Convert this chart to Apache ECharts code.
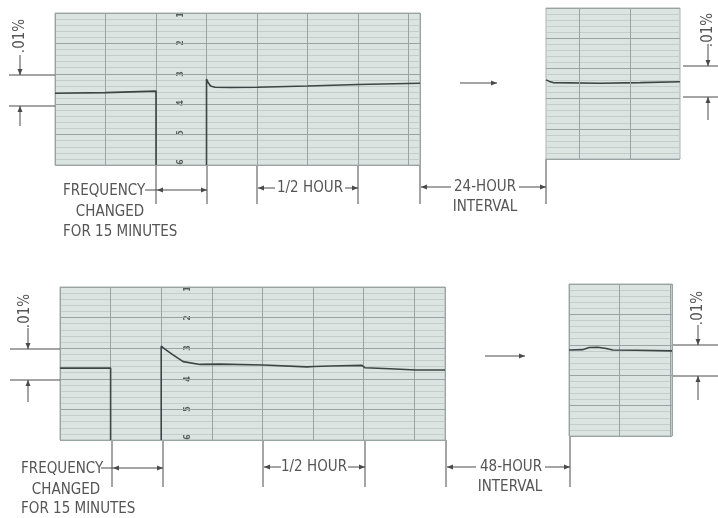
<!DOCTYPE html>
<html><head><meta charset="utf-8">
<script src="https://cdn.jsdelivr.net/npm/echarts@6/dist/echarts.min.js"></script>
<style>html,body{margin:0;padding:0;background:#fff}#c{width:718px;height:518px}</style>
</head><body><div id="c"></div>
<script>
// x: minutes on the recorder strip, y: chart divisions (1 division = 0.01 %)
const top24Before = [[0,2.36],[15,2.38],[30,2.43],[30,0]];
const top24After  = [[45,0],[45,2.83],[45.4,2.72],[46.2,2.6],[47.5,2.56],[52,2.55],[60,2.56],[75,2.6],[90,2.65],[108.4,2.69]];
const top24Later  = [[0,2.62],[1,2.57],[2.1,2.53],[16,2.51],[28,2.53],[39.8,2.56]];
const bot48Before = [[0,2.35],[15,2.35],[15,0]];
const bot48After  = [[30,0],[30,3.07],[31,2.98],[33.5,2.78],[36.5,2.56],[41.5,2.47],[47.4,2.48],[60.2,2.45],[73.2,2.39],[75.3,2.4],[80,2.42],[89.5,2.44],[90.4,2.36],[97.8,2.33],[105.5,2.29],[114.1,2.29]];
const bot48Later  = [[0,2.83],[4,2.84],[6,2.91],[8.5,2.92],[11,2.88],[13,2.83],[20,2.82],[30.5,2.8]];
const laterRulings = [9.8, 25];
const scaleDigits = ['1','2','3','4','5','6'];
const labels = {freq:'FREQUENCY', changed:'CHANGED', forMin:'FOR 15 MINUTES', half:'1/2 HOUR', h24:'24-HOUR', h48:'48-HOUR', interval:'INTERVAL', pct:'.01%'};

const PAPER='#dce4e1', MINOR='#c3cdca', MAJOR='#98a4a1', BORDER='#a9b3b1', PEN='#3b4543', INK='#4a4a4a', TXT='#555';
const FONT='15px "DejaVu Sans Condensed","Liberation Sans Narrow",Roboto,sans-serif';

const grids = [
  {left:55, top:13, width:365, height:152},
  {left:546, top:8, width:134, height:151},
  {left:60, top:287, width:385, height:153},
  {left:569, top:284, width:103, height:152}
].map(g => Object.assign({show:true, backgroundColor:PAPER, borderColor:BORDER, borderWidth:1}, g));
const xMax = [108.4, 39.8, 114.1, 30.5];

const xAxis = xMax.map((m,i) => ({
  type:'value', gridIndex:i, min:0, max:m, interval:15,
  axisLine:{show:false}, axisTick:{show:false}, axisLabel:{show:false},
  splitLine:{show:i!==1, lineStyle:{color:MAJOR, width:1}}
}));
const yAxis = xMax.map((m,i) => ({
  type:'value', gridIndex:i, min:0, max:5, interval:1,
  axisLine:{show:false}, axisTick:{show:false}, axisLabel:{show:false},
  splitLine:{show:true, lineStyle:{color:MAJOR, width:1}},
  minorTick:{show:false, splitNumber:5},
  minorSplitLine:{show:true, lineStyle:{color:MINOR, width:1}}
}));
function pen(data, i, extra){
  return Object.assign({type:'line', xAxisIndex:i, yAxisIndex:i, data, symbol:'none', smooth:false,
    lineStyle:{color:PEN, width:1.6}, silent:true}, extra||{});
}
const series = [
  pen(top24Before,0), pen(top24After,0),
  pen(top24Later,1,{markLine:{silent:true, symbol:'none', label:{show:false},
     lineStyle:{color:MAJOR, type:'solid', width:1}, data:laterRulings.map(v=>({xAxis:v}))}}),
  pen(bot48Before,2), pen(bot48After,2), pen(bot48Later,3)
];

const G=[];
function ln(x1,y1,x2,y2){G.push({type:'line', silent:true, shape:{x1,y1,x2,y2}, style:{stroke:INK, lineWidth:1}});}
function head(x,y,dir){
  const L=6,W=2.5; let p;
  if(dir==='left') p=[[x,y],[x+L,y-W],[x+L,y+W]];
  if(dir==='right') p=[[x,y],[x-L,y-W],[x-L,y+W]];
  if(dir==='up') p=[[x,y],[x-W,y+L],[x+W,y+L]];
  if(dir==='down') p=[[x,y],[x-W,y-L],[x+W,y-L]];
  G.push({type:'polygon', silent:true, shape:{points:p}, style:{fill:INK}});
}
function txt(s,x,y,align,opt){
  G.push(Object.assign({type:'text', silent:true, x, y, style:{text:s, font:FONT, fill:TXT,
    align:align, textAlign:align, verticalAlign:'middle', textVerticalAlign:'middle'}}, opt||{}));
}
function rtxt(s,x,y){ txt(s,x,y,'center',{rotation:Math.PI/2}); }
function small(s,x,y){
  G.push({type:'text', silent:true, x, y, rotation:Math.PI/2, style:{text:s, font:'bold 8px "DejaVu Sans",sans-serif', fill:'#5a5f5e',
    align:'center', textAlign:'center', verticalAlign:'middle', textVerticalAlign:'middle'}});
}

// ---- top row annotations
ln(9,75,55,75); ln(9,106,55,106);
ln(20,55,20,75); head(20,75,'down');
ln(20,106,20,126); head(20,106,'up');
rtxt(labels.pct,20,36);
ln(683,66,718,66); ln(683,97,718,97);
ln(708,44,708,66); head(708,66,'down');
ln(708,97,708,120); head(708,97,'up');
rtxt(labels.pct,708,30);
ln(460,83,497,83); head(497,83,'right');
[156,207,257,358,420].forEach(x=>ln(x,165,x,204)); ln(546,159,546,204);
txt(labels.freq,63,191,'left'); ln(145,190,207,190); head(157,190,'left'); head(207,190,'right');
txt(labels.changed,110,212,'center'); txt(labels.forMin,63,232,'left');
ln(258,188,275,188); head(258,188,'left'); txt(labels.half,310,188,'center'); ln(345,188,358,188); head(358,188,'right');
ln(421,187,451,187); head(421,187,'left'); txt(labels.h24,485,187,'center'); ln(519,187,546,187); head(546,187,'right');
txt(labels.interval,485,207,'center');
[15,43,74,103,133,162].forEach((y,k)=>small(scaleDigits[k],181,y));

// ---- bottom row annotations
ln(10,349,60,349); ln(10,380,60,380);
ln(28,328,28,349); head(28,349,'down');
ln(28,380,28,402); head(28,380,'up');
rtxt(labels.pct,25,311);
ln(673,345,718,345); ln(673,376,718,376);
ln(698,325,698,345); head(698,345,'down');
ln(698,376,698,400); head(698,376,'up');
rtxt(labels.pct,698,308);
ln(485,356,525,356); head(525,356,'right');
[112,163,263,365,446].forEach(x=>ln(x,440,x,487)); ln(570,436,570,487);
txt(labels.freq,21,469,'left'); ln(101,468,163,468); head(113,468,'left'); head(163,468,'right');
txt(labels.changed,66,490,'center'); txt(labels.forMin,21,509,'left');
ln(264,467,281,467); head(264,467,'left'); txt(labels.half,314,467,'center'); ln(348,467,365,467); head(365,467,'right');
ln(447,467,476,467); head(447,467,'left'); txt(labels.h48,511,467,'center'); ln(545,467,570,467); head(570,467,'right');
txt(labels.interval,510,487,'center');
[289,318,348,379,409,437].forEach((y,k)=>small(scaleDigits[k],188,y));

const chart = echarts.init(document.getElementById('c'), null, {renderer:'canvas'});
chart.setOption({animation:false, backgroundColor:'#fff', grid:grids, xAxis, yAxis, series, graphic:{elements:G}});
</script></body></html>
